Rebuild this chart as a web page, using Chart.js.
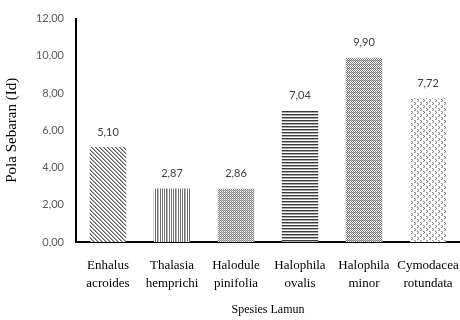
<!DOCTYPE html>
<html>
<head>
<meta charset="utf-8">
<script src="https://cdn.jsdelivr.net/npm/chart.js@4/dist/chart.umd.min.js"></script>
<style>
  html, body { margin: 0; padding: 0; background: #fff; }
  #wrap { width: 460px; height: 320px; position: relative; }
</style>
</head>
<body>
<div id="wrap"><canvas id="chart"></canvas></div>
<script>
// Seagrass species and their distribution index
const categories = [
  ['Enhalus', 'acroides'],
  ['Thalasia', 'hemprichi'],
  ['Halodule', 'pinifolia'],
  ['Halophila', 'ovalis'],
  ['Halophila', 'minor'],
  ['Cymodacea', 'rotundata']
];
const values = [5.10, 2.87, 2.86, 7.04, 9.90, 7.72];
const yTicks = [0, 2, 4, 6, 8, 10, 12];

const comma = v => v.toFixed(2).replace('.', ',');

// Small monochrome fill patterns, one per bar
function makePattern(w, h, draw) {
  const c = document.createElement('canvas');
  c.width = w; c.height = h;
  const g = c.getContext('2d');
  g.fillStyle = '#fff';
  g.fillRect(0, 0, w, h);
  draw(g);
  return g.createPattern(c, 'repeat');
}

const patterns = [
  // dense diagonal lines
  makePattern(4, 4, g => {
    g.fillStyle = '#5e5e5e';
    for (let i = 0; i < 4; i++) g.fillRect(i, i, 1, 1);
    g.fillStyle = '#a8a8a8';
    for (let i = 0; i < 4; i++) g.fillRect((i + 1) % 4, i, 1, 1);
  }),
  // irregular vertical lines
  makePattern(9, 2, g => {
    g.fillStyle = '#707070';
    [0, 2, 4, 7].forEach(x => g.fillRect(x, 0, 1, 2));
    g.fillStyle = '#b5b5b5';
    [5].forEach(x => g.fillRect(x, 0, 1, 2));
  }),
  // zigzag
  makePattern(4, 4, g => {
    g.fillStyle = '#808080';
    [[0,0],[1,1],[2,0],[3,1],[0,2],[1,3],[2,2],[3,3]].forEach(p => g.fillRect(p[0], p[1], 1, 1));
    g.fillStyle = '#c8c8c8';
    [[1,0],[3,0],[1,2],[3,2]].forEach(p => g.fillRect(p[0], p[1], 1, 1));
  }),
  // horizontal lines
  makePattern(2, 3, g => {
    g.fillStyle = '#3c3c3c';
    g.fillRect(0, 0, 2, 1);
    g.fillStyle = '#a8a8a8';
    g.fillRect(0, 1, 2, 1);
  }),
  // small cross-hatch lattice
  makePattern(4, 4, g => {
    g.fillStyle = '#7a7a7a';
    [[0,0],[2,0],[1,1],[0,2],[2,2],[3,3],[3,1],[1,3]].forEach(p => g.fillRect(p[0], p[1], 1, 1));
    g.fillStyle = '#bdbdbd';
    [[1,0],[3,0]].forEach(p => g.fillRect(p[0], p[1], 1, 1));
  }),
  // sparse dotted diamonds
  makePattern(6, 6, g => {
    g.fillStyle = '#8c8c8c';
    [[0,0],[1,1],[0,2],[3,3],[4,4],[3,5]].forEach(p => g.fillRect(p[0], p[1], 1, 1));
    g.fillStyle = '#c8c8c8';
    [[1,0],[4,3],[1,2],[4,5]].forEach(p => g.fillRect(p[0], p[1], 1, 1));
  })
];

// Value labels above each bar
const valueLabelPlugin = {
  id: 'valueLabels',
  afterDatasetsDraw(chart) {
    const ctx = chart.ctx;
    const meta = chart.getDatasetMeta(0);
    ctx.save();
    ctx.font = '11px Lato, "Liberation Sans", sans-serif';
    ctx.fillStyle = '#404040';
    ctx.textAlign = 'center';
    ctx.textBaseline = 'middle';
    meta.data.forEach((bar, i) => {
      ctx.fillText(comma(values[i]), bar.x, bar.y - 15);
    });
    ctx.restore();
  }
};

new Chart(document.getElementById('chart'), {
  type: 'bar',
  data: {
    labels: categories,
    datasets: [{
      data: values,
      backgroundColor: patterns,
      borderWidth: 0,
      barPercentage: 0.57,
      categoryPercentage: 1
    }]
  },
  options: {
    responsive: true,
    maintainAspectRatio: false,
    animation: false,
    events: [],
    layout: { padding: { top: 18, right: -3, left: 0, bottom: 0 } },
    plugins: {
      legend: { display: false },
      tooltip: { enabled: false }
    },
    scales: {
      x: {
        grid: { display: false, drawTicks: false },
        border: { display: true, color: '#000', width: 2 },
        ticks: {
          color: '#000',
          padding: 14,
          maxRotation: 0,
          autoSkip: false,
          font: { family: '"Liberation Serif", "Times New Roman", serif', size: 13, lineHeight: 1.4 }
        },
        title: {
          display: true,
          text: 'Spesies Lamun',
          color: '#000',
          padding: { top: 0, bottom: 3 },
          font: { family: '"Liberation Serif", "Times New Roman", serif', size: 12 }
        },
        afterFit(scale) {
          scale.height = 78;
          scale.paddingLeft = 0;
          scale.paddingRight = 0;
        }
      },
      y: {
        min: 0,
        max: 12,
        afterBuildTicks(scale) { scale.ticks = yTicks.map(v => ({ value: v })); },
        grid: { display: false, drawTicks: false },
        border: { display: true, color: '#000', width: 2 },
        ticks: {
          color: '#595959',
          padding: 12,
          callback: v => comma(v),
          font: { family: 'Lato, "Liberation Sans", sans-serif', size: 11 }
        },
        title: {
          display: true,
          text: 'Pola Sebaran (Id)',
          color: '#000',
          padding: { top: 3, bottom: 0 },
          font: { family: '"Liberation Serif", "Times New Roman", serif', size: 15 }
        },
        afterFit(scale) { scale.width = 76; }
      }
    }
  },
  plugins: [valueLabelPlugin]
});
</script>
</body>
</html>
